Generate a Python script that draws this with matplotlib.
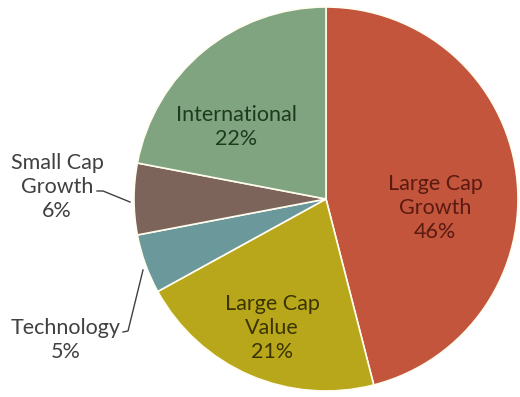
import matplotlib.pyplot as plt
from matplotlib.lines import Line2D

# slices, clockwise from the top
labels = ["Large Cap\nGrowth", "Large Cap\nValue", "Technology", "Small Cap\nGrowth", "International"]
values = [46, 21, 5, 6, 22]
colors = ["#C2553C", "#B9A71B", "#6A989B", "#7D645A", "#80A47F"]
text_colors = ["#5A1A10", "#3A3500", "#404040", "#404040", "#1E3A1E"]

fig = plt.figure(figsize=(5.2, 3.97), dpi=100)
ax = fig.add_axes([0, 0, 1, 1])

cx, cy, r = 326, 198, 192
wedges, _ = ax.pie(values, colors=colors, startangle=90, counterclock=False,
                   center=(cx, cy), radius=r, frame=True,
                   wedgeprops=dict(edgecolor="#FFFDF0", linewidth=1.2))
ax.set_xlim(0, 520)
ax.set_ylim(0, 397)
ax.set_aspect("equal")
ax.axis("off")

font = dict(family=["Lato", "DejaVu Sans"], fontsize=15.5, ha="center", va="center",
            linespacing=1.22)

# label positions (pixel coords, y from bottom)
pos = [(435, 189), (272, 69), (66, 57), (57, 210), (236, 270)]
for i in range(len(values)):
    txt = labels[i] + "\n" + str(values[i]) + "%"
    ax.text(pos[i][0], pos[i][1], txt, color=text_colors[i], **font)

# leader lines for the small slices
ax.add_line(Line2D([97, 103, 130], [206, 206, 195], color="#404040", lw=1))
ax.add_line(Line2D([123, 128, 143], [65, 66, 127], color="#404040", lw=1))

fig.savefig("out.png", dpi=100)
